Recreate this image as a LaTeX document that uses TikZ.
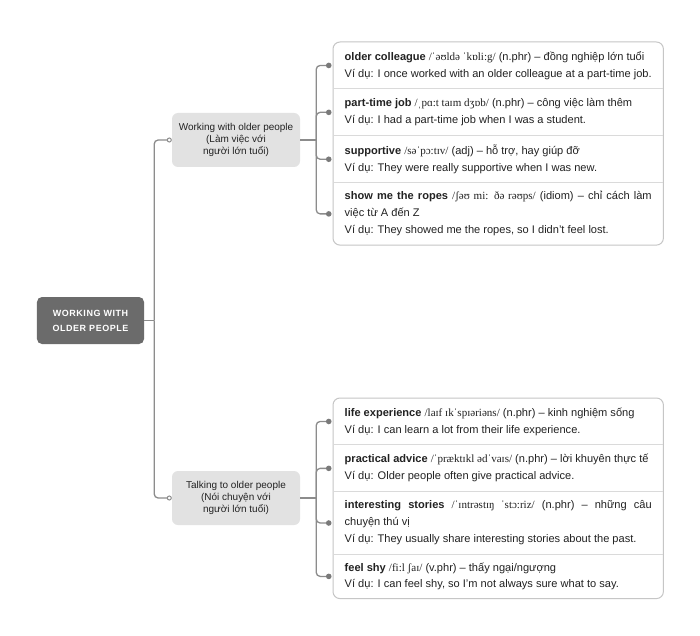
\documentclass[tikz,border=0pt]{standalone}
\usepackage{fontspec}
\setmainfont{Liberation Sans}
\newfontfamily\ipafont{Liberation Serif}
\newfontfamily\rootfont[LetterSpace=6]{Liberation Sans}
\usetikzlibrary{positioning,fit,arrows.meta,backgrounds}
\definecolor{rootgray}{HTML}{6B6B6B}
\definecolor{branchgray}{HTML}{E2E2E2}
\definecolor{linegray}{HTML}{8C8C8C}
\definecolor{dotgray}{HTML}{7A7A7A}
\definecolor{boxgray}{HTML}{C6C6C6}
\definecolor{divgray}{HTML}{DADADA}
\definecolor{txt}{HTML}{222222}
\newcommand\ipa[1]{{\ipafont #1}}
\begin{document}
\begin{tikzpicture}[x=1bp,y=-1bp,
 rootbox/.style={fill=rootgray, rounded corners=5bp, text=white, font=\rootfont\bfseries\fontsize{9}{15}\selectfont, align=center, minimum width=107bp, minimum height=47bp, inner sep=0pt},
 branchbox/.style={fill=branchgray, rounded corners=6bp, text=txt, font=\fontsize{10}{11.8}\selectfont, align=center, minimum width=128bp, minimum height=54bp, inner sep=0pt},
 itembox/.style={text width=307bp, inner xsep=11.5bp, inner ysep=0pt, align=justify, font=\fontsize{11.1}{17}\selectfont, text=txt, minimum height=46.5bp},
 tall/.style={minimum height=62bp},
 leafbox/.style={draw=boxgray, line width=1bp, rounded corners=7bp, inner sep=0pt},
 divider/.style={draw=divgray, line width=0.9bp},
 conn/.style={draw=linegray, line width=1.3bp, rounded corners=4bp},
 opentip/.style={-{Circle[open, fill=white, length=5bp, line width=1bp]}},
 dottip/.style={-{Circle[length=5.5bp, fill=dotgray, color=dotgray]}, shorten >=1.5bp},
]
\fill[white] (0,0) rectangle (700,636);
\useasboundingbox (0,0) rectangle (700,636);

\node[rootbox] (root) at (90.5,320.5) {WORKING WITH\\OLDER PEOPLE};
\node[branchbox] (b1) at (236,140) {Working with older people\\(Làm việc với\\người lớn tuổi)};
\node[branchbox] (b2) at (236,498) {Talking to older people\\(Nói chuyện với\\người lớn tuổi)};

% leaf group 1
\node[itembox, anchor=north west] (i11) at (333,42) {\textbf{older colleague} \ipa{/ˈəʊldə ˈkɒli:g/} (n.phr) – đồng nghiệp lớn tuổi\\Ví dụ: I once worked with an older colleague at a part-time job.};
\node[itembox, anchor=north] (i12) at (i11.south) {\textbf{part-time job} \ipa{/ˌpɑ:t taɪm dʒɒb/} (n.phr) – công việc làm thêm\\Ví dụ: I had a part-time job when I was a student.};
\node[itembox, anchor=north] (i13) at (i12.south) {\textbf{supportive} \ipa{/səˈpɔ:tɪv/} (adj) – hỗ trợ, hay giúp đỡ\\Ví dụ: They were really supportive when I was new.};
\node[itembox, tall, anchor=north] (i14) at (i13.south) {\textbf{show me the ropes} \ipa{/ʃəʊ mi: ðə rəʊps/} (idiom) – chỉ cách làm\linebreak việc từ A đến Z\\Ví dụ: They showed me the ropes, so I didn’t feel lost.};

% leaf group 2
\node[itembox, anchor=north west] (i21) at (333,398) {\textbf{life experience} \ipa{/laɪf ɪkˈspɪəriəns/} (n.phr) – kinh nghiệm sống\\Ví dụ: I can learn a lot from their life experience.};
\node[itembox, anchor=north] (i22) at (i21.south) {\textbf{practical advice} \ipa{/ˈpræktɪkl ədˈvaɪs/} (n.phr) – lời khuyên thực tế\\Ví dụ: Older people often give practical advice.};
\node[itembox, tall, anchor=north] (i23) at (i22.south) {\textbf{interesting stories} \ipa{/ˈɪntrəstɪŋ ˈstɔ:riz/} (n.phr) – những câu\linebreak chuyện thú vị\\Ví dụ: They usually share interesting stories about the past.};
\node[itembox, minimum height=44bp, anchor=north] (i24) at (i23.south) {\textbf{feel shy} \ipa{/fi:l ʃaɪ/} (v.phr) – thấy ngại/ngượng\\Ví dụ: I can feel shy, so I’m not always sure what to say.};

\node[leafbox, fit=(i11)(i14)] (L1) {};
\node[leafbox, fit=(i21)(i24)] (L2) {};

\foreach \n in {i12,i13,i14,i22,i23,i24}
  \draw[divider] ([xshift=0.5bp]\n.north west) -- ([xshift=-0.5bp]\n.north east);

% trunk
\path (root.east) ++(10,0) coordinate (tj);
\draw[conn] (root.east) -- (tj);
\draw[conn, opentip] (tj) |- (b1.west);
\draw[conn, opentip] (tj) |- (b2.west);

% branch 1
\path (b1.east) ++(16,0) coordinate (j1);
\draw[conn] (b1.east) -- (j1);
\foreach \n in {i11,i12,i13,i14}
  \draw[conn, dottip] (j1) |- (\n.west);

% branch 2
\path (b2.east) ++(16,0) coordinate (j2);
\draw[conn] (b2.east) -- (j2);
\foreach \n in {i21,i22,i23,i24}
  \draw[conn, dottip] (j2) |- (\n.west);
\end{tikzpicture}
\end{document}
